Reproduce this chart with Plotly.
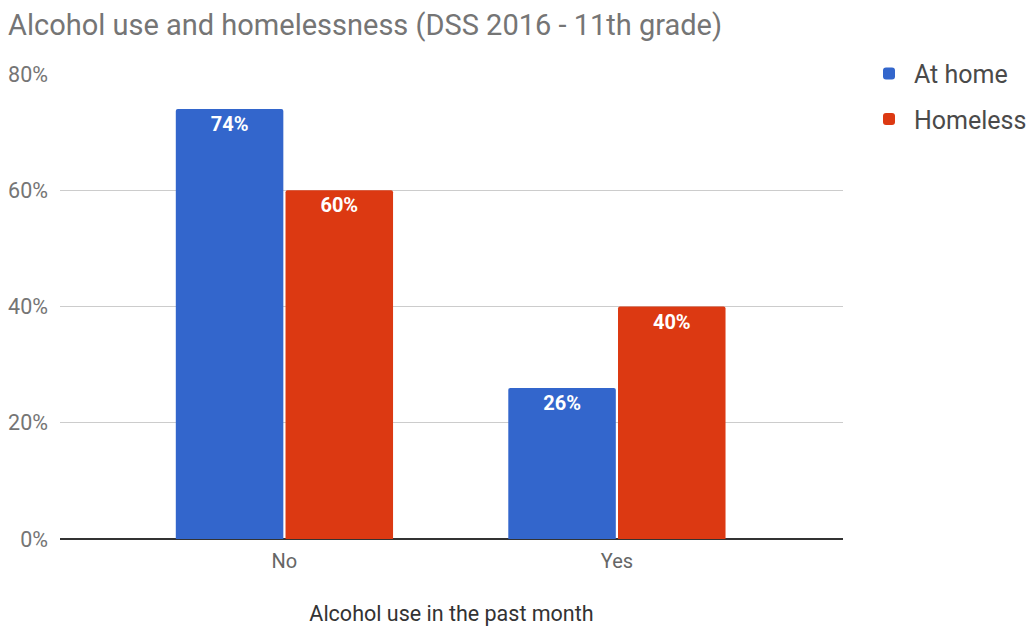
import plotly.graph_objects as go

categories = ["No", "Yes"]
at_home = [74, 26]
homeless = [60, 40]
series_names = ["At home", "Homeless"]
colors = ["#3366CC", "#DC3912"]
y_ticks = [0, 20, 40, 60, 80]

fig = go.Figure()
for name, vals, col in zip(series_names, [at_home, homeless], colors):
    fig.add_trace(go.Bar(
        name=name, x=categories, y=vals,
        marker=dict(color=col, line=dict(width=0), cornerradius=2),
        text=[f"{v}%" for v in vals],
        textposition="inside", insidetextanchor="end",
        textfont=dict(family="Roboto", size=20, color="white", weight="bold"),
        legendgroup=name,
    ))

fig.update_layout(
    width=1034, height=627,
    paper_bgcolor="white", plot_bgcolor="white",
    margin=dict(l=60, r=191, t=74, b=88, autoexpand=False),
    barmode="group", bargap=0.34, bargroupgap=0.02,
    font=dict(family="Roboto", color="#757575"),
    title=dict(text="Alcohol use and homelessness (DSS 2016 - 11th grade)",
               x=8/1034, xref="container", xanchor="left",
               y=1-25/627, yref="container", yanchor="middle",
               font=dict(family="Roboto", size=29, color="#757575")),
    legend=dict(x=864/1034, xref="container", y=1.05, xanchor="left", yanchor="top",
                font=dict(family="Roboto", size=25, color="#4a4a4a"),
                tracegroupgap=10, itemwidth=40),
    showlegend=True,
    uniformtext=dict(minsize=20, mode="show"),
)
fig.update_xaxes(
    range=[-0.675, 1.68], showgrid=False, showline=False, zeroline=False,
    tickfont=dict(family="Roboto", size=20, color="#666666"),
    ticks="", ticklabelstandoff=8, automargin=False,
    title=dict(text="Alcohol use in the past month", standoff=33,
               font=dict(family="Roboto", size=21.5, color="#333333")),
)
fig.update_yaxes(
    range=[0, 80], tickvals=y_ticks, ticktext=[f"{v}%" for v in y_ticks],
    showgrid=True, gridcolor="#CCCCCC", gridwidth=1,
    zeroline=True, zerolinecolor="#333333", zerolinewidth=1.5,
    showline=False, ticks="", ticklabelstandoff=11, automargin=False,
    tickfont=dict(family="Roboto", size=21.5, color="#757575"),
)

fig.write_html("out.html", config={"displayModeBar": False},
               post_script="document.body.style.margin='0px';document.body.style.overflow='hidden';")
